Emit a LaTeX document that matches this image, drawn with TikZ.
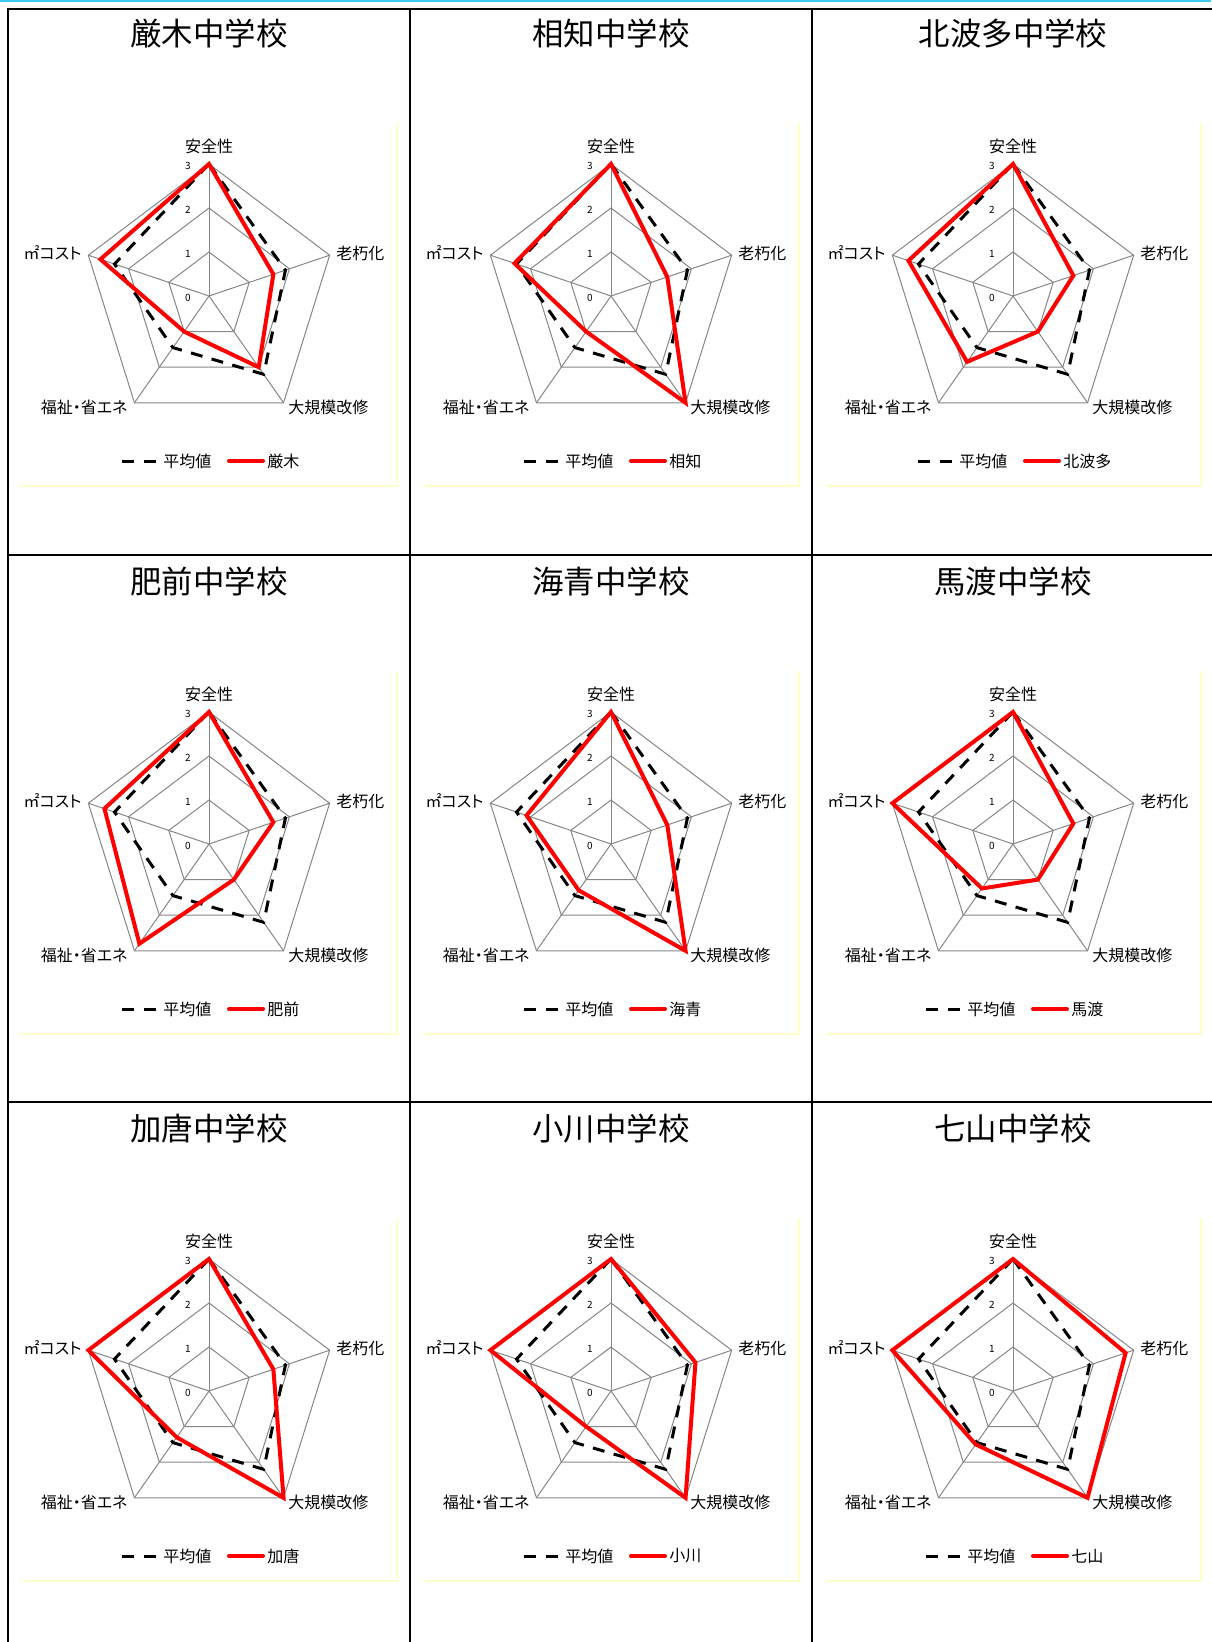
\documentclass[tikz,border=0pt]{standalone}
\usepackage{fontspec}
\setmainfont{Noto Sans CJK JP}[RawFeature=+palt]
\definecolor{gridgray}{RGB}{134,134,134}
\definecolor{schoolred}{RGB}{255,0,0}
\definecolor{frameyellow}{RGB}{255,255,200}
\definecolor{topcyan}{RGB}{60,200,240}
\tikzset{
  gridline/.style={draw=gridgray, line width=0.5pt},
  avgline/.style={draw=black, line width=1.5pt, dash pattern=on 6pt off 4.75pt},
  schoolline/.style={draw=schoolred, line width=2pt, line cap=round},
  yframe/.style={draw=frameyellow, line width=1pt},
  cellborder/.style={draw=black, line width=1pt, line cap=rect},
  ticklbl/.style={inner sep=0pt, font=\fontsize{5}{6}\selectfont},
  axlbl/.style={inner sep=0pt, font=\fontsize{8}{9.6}\selectfont},
  leglbl/.style={inner sep=0pt, anchor=west, font=\fontsize{8}{9.6}\selectfont},
  titlelbl/.style={inner sep=0pt, font=\fontsize{15.7}{18}\selectfont},
}
% point on radar axis #1 (0 = top, clockwise) at value #2
\newcommand{\rp}[2]{({0.961*44*(#2)*sin(72*(#1))},{-44*(#2)*cos(72*(#1))})}
% #1 cx, #2 cy, #3 title, #4 legend name, #5 legend start, #6-#9 values
\newcommand{\schoolchart}[9]{%
\begin{scope}[shift={(#1,#2)}]
  \draw[yframe] (-187,189.5) -- (187.5,189.5) -- (187.5,-173);
  \foreach \lv in {1,2,3}
    \draw[gridline] \rp{0}{\lv} -- \rp{1}{\lv} -- \rp{2}{\lv} -- \rp{3}{\lv} -- \rp{4}{\lv} -- cycle;
  \foreach \kk in {0,...,4}
    \draw[gridline] (0,0) -- \rp{\kk}{3};
  \foreach \lv in {0,1,2,3}
    \node[ticklbl] (tick\lv-#1-#2) at (-21,{-44*\lv+2}) {\lv};
  \node[axlbl] (axa-#1-#2) at (0,-150) {安全性};
  \node[axlbl, anchor=west] (axb-#1-#2) at (127,-43) {老朽化};
  \node[axlbl, anchor=west] (axc-#1-#2) at (79,111) {大規模改修};
  \node[axlbl, anchor=east] (axd-#1-#2) at (-81,111) {福祉・省エネ};
  \node[axlbl, anchor=east] (axe-#1-#2) at (-127,-43) {㎡コスト};
  \draw[avgline] \rp{0}{3} -- \rp{1}{1.9} -- \rp{2}{2.2} -- \rp{3}{1.45} -- \rp{4}{2.35} -- cycle;
  \draw[schoolline] \rp{0}{3} -- \rp{1}{#6} -- \rp{2}{#7} -- \rp{3}{#8} -- \rp{4}{#9} -- cycle;
  \node[titlelbl] (title-#1-#2) at (0,-262) {#3};
  \coordinate (lega-#1-#2) at (#5,165);
  \coordinate (legb-#1-#2) at ({#5+35},165);
  \draw[avgline] (lega-#1-#2) -- (legb-#1-#2);
  \node[leglbl] (legavg-#1-#2) at ({#5+41},165) {平均値};
  \coordinate (legc-#1-#2) at ({#5+107},165);
  \coordinate (legd-#1-#2) at ({#5+141},165);
  \draw[schoolline] (legc-#1-#2) -- (legd-#1-#2);
  \node[leglbl] (legname-#1-#2) at ({#5+145},165) {#4};
\end{scope}}
\begin{document}
\begin{tikzpicture}[x=0.5pt, y=-0.5pt]
  \useasboundingbox (0,0) rectangle (1211,1642);
  \fill[white] (0,0) rectangle (1211,1642);
  \fill[topcyan] (0,0) rectangle (1211,2.2);
  % cell borders
  \draw[cellborder] (8,9.3) -- (1211,9.3);
  \draw[cellborder] (8,555) -- (1211,555);
  \draw[cellborder] (8,1102) -- (1211,1102);
  \draw[cellborder] (8,9.3) -- (8,1642);
  \draw[cellborder] (410,9.3) -- (410,1642);
  \draw[cellborder] (812,9.3) -- (812,1642);
  % charts
  \schoolchart{209}{296}{厳木中学校}{厳木}{-87}{1.6}{2.0}{1.0}{2.7}
  \schoolchart{611}{296}{相知中学校}{相知}{-87}{1.4}{3.0}{1.0}{2.4}
  \schoolchart{1013}{296}{北波多中学校}{北波多}{-95}{1.5}{1.0}{1.85}{2.6}
  \schoolchart{209}{844}{肥前中学校}{肥前}{-87}{1.6}{1.0}{2.8}{2.6}
  \schoolchart{611}{844}{海青中学校}{海青}{-87}{1.4}{3.0}{1.3}{2.1}
  \schoolchart{1013}{844}{馬渡中学校}{馬渡}{-87}{1.5}{1.0}{1.25}{3.0}
  \schoolchart{209}{1391}{加唐中学校}{加唐}{-87}{1.6}{3.0}{1.3}{3.0}
  \schoolchart{611}{1391}{小川中学校}{小川}{-87}{2.1}{3.0}{1.0}{3.0}
  \schoolchart{1013}{1391}{七山中学校}{七山}{-87}{2.8}{3.0}{1.5}{3.0}
\end{tikzpicture}
\end{document}
